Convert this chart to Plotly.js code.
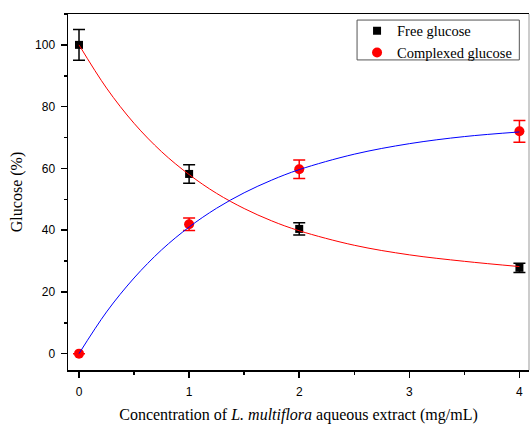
<!DOCTYPE html>
<html><head><meta charset="utf-8">
<script src="https://cdn.plot.ly/plotly-3.0.1.min.js"></script>
<style>html,body{margin:0;padding:0;background:#fff;}#chart{width:530px;height:424px;}</style>
</head><body><div id="chart"></div>
<script>
// Measured points
const conc = [0, 1, 2, 4];
const freeGlucose = [100, 58.2, 40.4, 27.8];
const freeErr = [5, 3, 2, 1.5];
const complexedGlucose = [0, 41.9, 59.7, 72];
const complexedErr = [0, 2, 3, 3.5];
// Fitted curves
const curveX = [0, 0.25, 0.5, 0.75, 1, 1.25, 1.5, 1.75, 2, 2.5, 3, 3.5, 4];
const freeFit = [100, 86, 74.6, 65.4, 58, 51.9, 47, 43, 39.8, 35.1, 32, 29.9, 28.2];
const complexedFit = [0, 13.5, 24.5, 33.6, 41, 47.1, 52.1, 56.2, 59.6, 64.6, 68, 70.3, 71.8];
const xTicks = [0, 1, 2, 3, 4];
const yTicks = [0, 20, 40, 60, 80, 100];

const traces = [
  {x: conc, y: freeGlucose, name: 'Free glucose', mode: 'markers', type: 'scatter',
   marker: {symbol: 'square', size: 8, color: '#000'},
   error_y: {type: 'data', array: freeErr, visible: true, color: '#000', thickness: 1.5, width: 6}},
  {x: conc, y: complexedGlucose, name: 'Complexed glucose', mode: 'markers', type: 'scatter',
   marker: {symbol: 'circle', size: 10, color: '#ff0000'},
   error_y: {type: 'data', array: complexedErr, visible: true, color: '#ff0000', thickness: 1.5, width: 6}},
  {x: curveX, y: freeFit, mode: 'lines', type: 'scatter', showlegend: false, hoverinfo: 'skip',
   line: {color: '#ff0000', width: 1, shape: 'spline'}},
  {x: curveX, y: complexedFit, mode: 'lines', type: 'scatter', showlegend: false, hoverinfo: 'skip',
   line: {color: '#0000ff', width: 1, shape: 'spline'}}
];

const serif = 'Liberation Serif, Times New Roman, serif';
const layout = {
  width: 530, height: 424,
  margin: {l: 68, r: 1, t: 14, b: 54},
  paper_bgcolor: '#fff', plot_bgcolor: '#fff',
  showlegend: true,
  legend: {x: 0.627, y: 0.998, xanchor: 'left', yanchor: 'top',
    borderwidth: 0, bgcolor: 'rgba(255,255,255,0)',
    font: {family: serif, size: 14.5, color: '#000'},
    tracegroupgap: 0, itemwidth: 30},
  xaxis: {range: [-0.1, 4.087], tickvals: xTicks, ticktext: xTicks.map(String),
    showgrid: false, zeroline: false, showline: true, linecolor: '#000', linewidth: 1.5,
    mirror: true, ticks: 'outside', ticklen: 6, tickwidth: 1.5, tickcolor: '#000',
    minor: {dtick: 0.5, ticks: 'outside', ticklen: 3, tickwidth: 1.5, tickcolor: '#000', showgrid: false},
    tickfont: {family: 'Liberation Sans, Arial, sans-serif', size: 12, color: '#000'},
    ticklabelstandoff: 4,
    title: {text: 'Concentration of <i>L. multiflora</i> aqueous extract (mg/mL)',
      font: {family: serif, size: 16, color: '#000'}, standoff: 12}},
  yaxis: {range: [-5.3, 110], tickvals: yTicks, ticktext: yTicks.map(String),
    showgrid: false, zeroline: false, showline: true, linecolor: '#000', linewidth: 1.5,
    ticks: 'outside', ticklen: 6, tickwidth: 1.5, tickcolor: '#000',
    minor: {dtick: 10, ticks: 'outside', ticklen: 3, tickwidth: 1.5, tickcolor: '#000', showgrid: false},
    tickfont: {family: 'Liberation Sans, Arial, sans-serif', size: 12, color: '#000'},
    ticklabelstandoff: 3,
    title: {text: 'Glucose (%)',
      font: {family: serif, size: 16, color: '#000'}, standoff: 8}},
  shapes: [
    {type: 'line', xref: 'paper', yref: 'paper', x0: 1, x1: 1, y0: 0, y1: 1,
     line: {color: '#bbbbbb', width: 1.5}},
    {type: 'rect', xref: 'paper', yref: 'paper', x0: 0.627, x1: 0.979, y0: 0.871, y1: 0.983,
     line: {color: '#555', width: 1}, fillcolor: 'rgba(0,0,0,0)'}
  ]
};

Plotly.newPlot('chart', traces, layout, {displayModeBar: false, staticPlot: true});
</script></body></html>
